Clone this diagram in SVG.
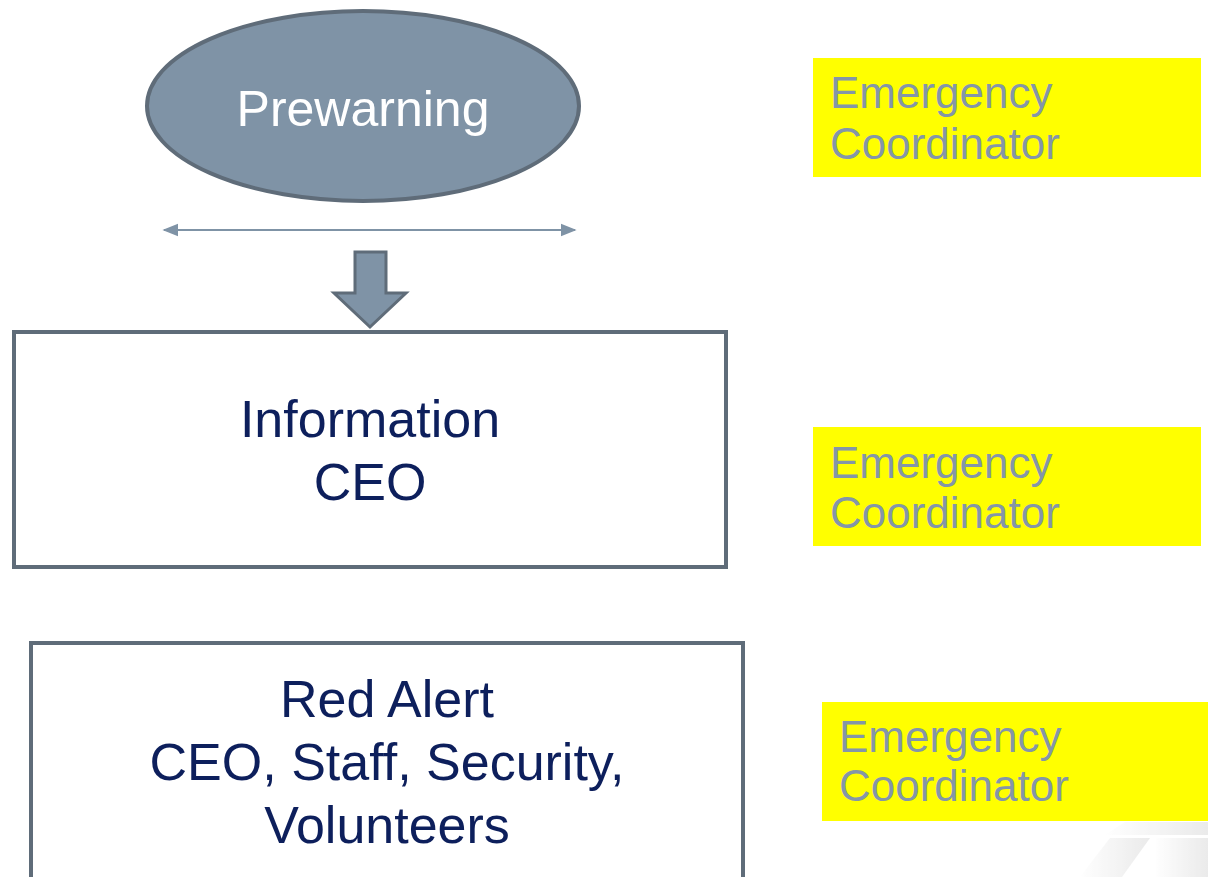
<svg xmlns="http://www.w3.org/2000/svg" width="1208" height="877" viewBox="0 0 1208 877">
<style>
.node-text{font-family:"Liberation Sans",Arial,sans-serif;fill:#0d1f5c;font-size:52px;text-anchor:middle}
.ec{font-family:"Liberation Sans",Arial,sans-serif;fill:#8496a8;font-size:44px}
.box{fill:#ffffff;stroke:#5f6c79;stroke-width:4}
.yel{fill:#ffff00}
</style>
<defs>
<marker id="ah" viewBox="0 0 10 10" refX="9" refY="5" markerWidth="8" markerHeight="8" orient="auto-start-reverse" markerUnits="strokeWidth">
<path d="M0,1 L10,5 L0,9 z" fill="#7f93a6"/>
</marker>
<linearGradient id="fg" x1="0" y1="0" x2="1" y2="0">
<stop offset="0" stop-color="#ffffff"/>
<stop offset="1" stop-color="#e2e2e2"/>
</linearGradient>
</defs>
<rect width="1208" height="877" fill="#ffffff"/>
<g id="deco" opacity="0.7">
<polygon points="1080,877 1110,838 1150,838 1122,877" fill="url(#fg)"/>
<polygon points="1105,835 1125,822 1208,822 1208,835" fill="url(#fg)"/>
<polygon points="1155,877 1155,838 1208,838 1208,877" fill="url(#fg)"/>
</g>
<g id="prewarning">
<ellipse cx="363" cy="106" rx="216" ry="95" fill="#7f93a6" stroke="#5f6c79" stroke-width="4"/>
<text x="363" y="126" font-family="Liberation Sans,Arial,sans-serif" font-size="50" fill="#ffffff" text-anchor="middle">Prewarning</text>
</g>
<g id="connectors">
<line x1="164" y1="230" x2="575" y2="230" stroke="#7f93a6" stroke-width="2" marker-start="url(#ah)" marker-end="url(#ah)"/>
<polygon points="355,252 386,252 386,293 406,293 370,327 334,293 355,293" fill="#7f93a6" stroke="#5f6c79" stroke-width="3" stroke-linejoin="miter"/>
</g>
<g id="information">
<rect class="box" x="14" y="332" width="712" height="235"/>
<text class="node-text" x="370" y="437">Information</text>
<text class="node-text" x="370" y="500">CEO</text>
</g>
<g id="redalert">
<rect class="box" x="31" y="643" width="712" height="260"/>
<text class="node-text" x="387" y="717">Red Alert</text>
<text class="node-text" x="387" y="780">CEO, Staff, Security,</text>
<text class="node-text" x="387" y="843">Volunteers</text>
</g>
<g id="ec1">
<rect class="yel" x="813" y="58" width="388" height="119"/>
<text class="ec" x="830" y="108">Emergency</text>
<text class="ec" x="830" y="159">Coordinator</text>
</g>
<g id="ec2">
<rect class="yel" x="813" y="427" width="388" height="119"/>
<text class="ec" x="830" y="478">Emergency</text>
<text class="ec" x="830" y="528">Coordinator</text>
</g>
<g id="ec3">
<rect class="yel" x="822" y="702" width="386" height="119"/>
<text class="ec" x="839" y="752">Emergency</text>
<text class="ec" x="839" y="801">Coordinator</text>
</g>
</svg>
